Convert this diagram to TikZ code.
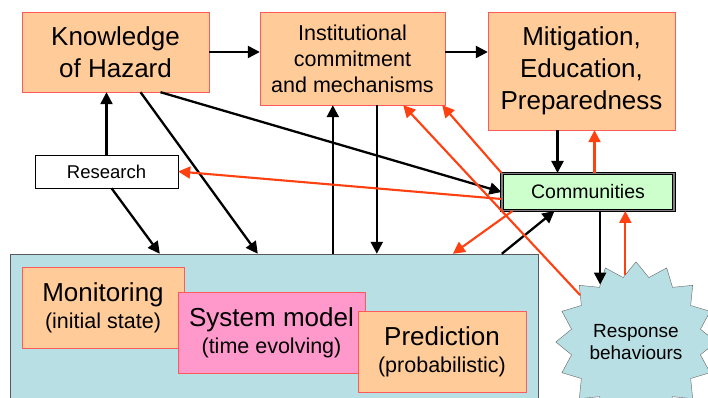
\documentclass[tikz,border=0pt]{standalone}
\usepackage{fontspec}
\setmainfont{Liberation Sans}
\usepackage{xcolor}
\usetikzlibrary{arrows.meta, shapes.geometric}

\definecolor{peach}{RGB}{255,204,153}
\definecolor{peachedge}{RGB}{255,90,90}
\definecolor{mint}{RGB}{204,255,204}
\definecolor{paleteal}{RGB}{184,223,227}
\definecolor{rosefill}{RGB}{255,153,204}
\definecolor{feedred}{RGB}{255,64,16}

\tikzset{
  stage/.style={draw=peachedge, fill=peach, align=center, inner sep=0pt},
  bigtext/.style={font=\fontsize{26}{32}\selectfont},
  subtext/.style={font=\fontsize{21.5}{27}\selectfont},
  arr/.style={line width=2.3pt, draw=black, -{Triangle[length=12pt,width=12pt]}},
  rarr/.style={line width=2.1pt, draw=feedred, -{Triangle[length=12pt,width=12pt]}}
}

\begin{document}
\begin{tikzpicture}[x=1pt, y=1pt]
  \path[use as bounding box, clip] (0,0) rectangle (708,398);
  \fill[white] (0,0) rectangle (708,398);

  % Top row
  \node[stage, bigtext, minimum width=187pt, minimum height=80pt]
     (kh) at (115.5,346) {Knowledge\\of Hazard};
  \node[stage, minimum width=185pt, minimum height=93pt,
     font=\fontsize{21.5}{26}\selectfont]
     (inst) at (352.5,339.5) {Institutional\\commitment\\and mechanisms};
  \node[stage, bigtext, minimum width=187pt, minimum height=118pt]
     (mit) at (581.5,327) {Mitigation,\\Education,\\Preparedness};

  % Middle row
  \node[draw=black, fill=white, minimum width=143pt, minimum height=33pt,
     inner sep=0pt, font=\fontsize{18.5}{22}\selectfont]
     (res) at (106.5,226.5) {Research};
  \node[draw=black, line width=1pt, double=gray, double distance=1.4pt,
     fill=mint, minimum width=172pt, minimum height=37pt, inner sep=0pt,
     font=\fontsize{19.5}{22}\selectfont]
     (comm) at (588,206) {Communities};

  % Core box with its three stages
  \node[draw=gray!70!black, fill=paleteal, minimum width=528pt,
     minimum height=150pt, inner sep=0pt] (core) at (274,69) {};
  \node[stage, subtext, minimum width=162pt, minimum height=81pt]
     (mon) at (103,90.5)
     {{\fontsize{26}{30}\selectfont Monitoring}\\(initial state)};
  \node[stage, subtext, fill=rosefill, minimum width=187pt, minimum height=81pt]
     (sysm) at (271.5,65.5)
     {{\fontsize{26}{30}\selectfont System model}\\(time evolving)};
  \node[stage, subtext, minimum width=168pt, minimum height=81pt]
     (pred) at (442,46.5)
     {{\fontsize{26}{30}\selectfont Prediction}\\(probabilistic)};

  % Response star
  \node[star, star points=16, star point ratio=1.22, minimum size=136pt,
     inner sep=0pt, draw=gray!80!black, fill=paleteal, align=center,
     font=\fontsize{19}{22}\selectfont]
     (resp) at (636,56) {Response\\behaviours};

  % Anchor points on the borders
  \coordinate (khA) at ([xshift=25pt]kh.south);
  \coordinate (khB) at ([xshift=45pt]kh.south);
  \coordinate (resA) at ([xshift=5pt]res.south);
  \coordinate (coreA) at ([xshift=150pt]core.north west);
  \coordinate (coreB) at ([xshift=248pt]core.north west);
  \coordinate (coreC) at ([xshift=323pt]core.north west);
  \coordinate (coreD) at ([xshift=367pt]core.north west);
  \coordinate (coreE) at ([xshift=443pt]core.north west);
  \coordinate (coreF) at ([xshift=492pt]core.north west);
  \coordinate (instA) at ([xshift=-42pt]inst.south east);
  \coordinate (instB) at ([xshift=-3pt]inst.south east);
  \coordinate (mitA) at ([xshift=-24pt]mit.south);
  \coordinate (mitB) at ([xshift=13pt]mit.south);
  \coordinate (commA) at ([yshift=-7pt]comm.west);
  \coordinate (commB) at ([xshift=11pt]comm.south west);
  \coordinate (commC) at ([xshift=53pt]comm.south west);

  % Black flows
  \draw[arr] (inst.east |- kh.east) -- (mit.west |- kh.east);
  \draw[arr] (kh.east) -- (kh.east -| inst.west);
  \draw[arr] (res.north) -- (res.north |- kh.south);
  \draw[arr] (khA) -- (coreB);
  \draw[arr] (resA) -- (coreA);
  \draw[arr] (khB) -- (comm.west);
  \draw[arr] (coreC) -- (coreC |- inst.south);
  \draw[arr] (coreD |- inst.south) -- (coreD);
  \draw[arr] (mitA) -- (mitA |- comm.north);
  \draw[arr] (coreF) -- (commC);
  \draw[arr] (comm.south -| resp.122) -- (resp.122);

  % Red feedback
  \draw[rarr] (mitB |- comm.north) -- (mitB);
  \draw[rarr] (comm.north west) -- (instB);
  \draw[rarr] (resp.140) -- (instA);
  \draw[rarr] (commA) -- (res.east);
  \draw[rarr] (commB) -- (coreE);
  \draw[rarr] (resp.99) -- (comm.south -| resp.99);
\end{tikzpicture}
\end{document}
